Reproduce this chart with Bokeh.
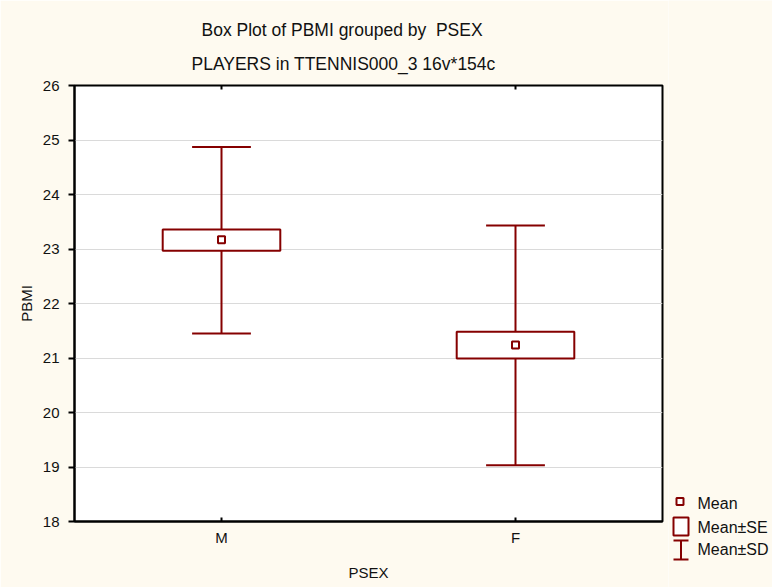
import math
from bokeh.plotting import figure
from bokeh.models import (Range1d, FactorRange, FixedTicker, ColumnDataSource,
                          Title)
from bokeh.transform import dodge
from bokeh.layouts import row, column
from bokeh.embed import file_html
from bokeh.resources import INLINE
from bokeh.core.properties import value

# PBMI by sex: mean, mean ± standard error, mean ± standard deviation
groups = ["M", "F"]
mean = [23.17, 21.24]
se_low = [22.97, 20.99]
se_high = [23.36, 21.48]
sd_low = [21.45, 19.03]
sd_high = [24.87, 23.43]
y_ticks = [18, 19, 20, 21, 22, 23, 24, 25, 26]
legend_names = ["Mean", "Mean\u00b1SE", "Mean\u00b1SD"]

BG = "#FEFAF0"
RED = "#850000"
INK = "#111111"
FONT = "Liberation Sans"

H = 587
KEY_W = 104

src = ColumnDataSource(dict(
    g=groups, mean=mean, se_low=se_low, se_high=se_high,
    sd_low=sd_low, sd_high=sd_high,
    se_mid=[(a + b) / 2 for a, b in zip(se_low, se_high)],
    se_h=[b - a for a, b in zip(se_low, se_high)],
    top=[y_ticks[-1]] * len(groups),
))

p = figure(width=772 - KEY_W, height=H,
           x_range=FactorRange(*groups, range_padding=0),
           y_range=Range1d(y_ticks[0], y_ticks[-1]), output_backend="svg",
           toolbar_location=None, title=None,
           min_border_left=74, min_border_right=6, min_border_top=85,
           min_border_bottom=66)
p.background_fill_color = "white"
p.border_fill_color = BG
p.outline_line_color = "black"
p.outline_line_width = 2

p.xgrid.visible = False
p.ygrid.grid_line_color = "#DADADA"
p.ygrid.grid_line_width = 1

p.yaxis.ticker = FixedTicker(ticks=y_ticks)
p.yaxis.minor_tick_line_color = None
p.yaxis.major_tick_out = 6
p.yaxis.major_tick_in = 0
p.yaxis.major_label_standoff = 9
p.yaxis.axis_label = "PBMI"
p.yaxis.axis_label_standoff = 5

p.xaxis.major_tick_out = 0
p.xaxis.major_tick_in = 4
p.xaxis.major_label_standoff = 7
p.xaxis.axis_label = "PSEX"
p.xaxis.axis_label_standoff = 15

for ax in p.axis:
    ax.axis_line_width = 2
    ax.axis_line_color = "black"
    ax.major_tick_line_width = 2
    ax.major_tick_line_color = "black"
    ax.major_label_text_font = FONT
    ax.major_label_text_font_size = "15px"
    ax.major_label_text_color = INK
    ax.axis_label_text_font = FONT
    ax.axis_label_text_font_size = "15px"
    ax.axis_label_text_font_style = "normal"
    ax.axis_label_text_color = INK

# inward category ticks along the top edge (outer half falls outside the frame)
p.scatter(x="g", y="top", source=src, marker="dash", angle=math.pi / 2,
          size=8, line_color="black", line_width=2)

# whiskers (mean ± SD) with caps
p.segment(x0="g", y0="sd_low", x1="g", y1="sd_high", source=src,
          line_color=RED, line_width=2)
p.segment(x0=dodge("g", -0.1, range=p.x_range), y0="sd_high",
          x1=dodge("g", 0.1, range=p.x_range), y1="sd_high", source=src,
          line_color=RED, line_width=2)
p.segment(x0=dodge("g", -0.1, range=p.x_range), y0="sd_low",
          x1=dodge("g", 0.1, range=p.x_range), y1="sd_low", source=src,
          line_color=RED, line_width=2)
# boxes (mean ± SE)
p.rect(x="g", y="se_mid", width=0.4, height="se_h", source=src,
       fill_color="white", line_color=RED, line_width=2)
# mean markers
p.scatter(x="g", y="mean", source=src, marker="square", size=7,
          fill_color="white", line_color=RED, line_width=2)

# two-line heading (first added sits closest to the frame)
p.add_layout(Title(text="PLAYERS in TTENNIS000_3 16v*154c", align="left",
                   text_font=FONT, text_font_size="17.5px",
                   text_font_style="normal", text_color=INK,
                   standoff=23, offset=117), "above")
p.add_layout(Title(text="Box Plot of PBMI grouped by \u00a0PSEX", align="left",
                   text_font=FONT, text_font_size="17.5px",
                   text_font_style="normal", text_color=INK,
                   standoff=2, offset=127), "above")

# key panel on the right; its coordinates are plain canvas pixels
lg = figure(width=KEY_W, height=H, x_range=Range1d(772 - KEY_W, 772),
            y_range=Range1d(H, 0), output_backend="svg",
            toolbar_location=None, x_axis_location=None, y_axis_location=None,
            min_border=0, title=None)
lg.grid.visible = False
lg.outline_line_color = None
lg.background_fill_color = BG
lg.border_fill_color = BG

key_y = [503, 527, 549]
lg.scatter(x=[679.5], y=[501], marker="square", size=7,
           fill_color="white", line_color=RED, line_width=2)
lg.quad(left=[673], right=[688], top=[517], bottom=[535],
        fill_color="white", line_color=RED, line_width=2)
lg.segment(x0=[680.5, 673, 673], y0=[540, 540, 559],
           x1=[680.5, 688, 688], y1=[559, 540, 559],
           line_color=RED, line_width=2)
lg.text(x=[697] * 3, y=key_y, text=legend_names, text_font=value(FONT),
        text_font_size="16px", text_baseline="middle", text_color=INK)

layout = row(p, column(lg))
open("out.html", "w").write(file_html(layout, INLINE))
